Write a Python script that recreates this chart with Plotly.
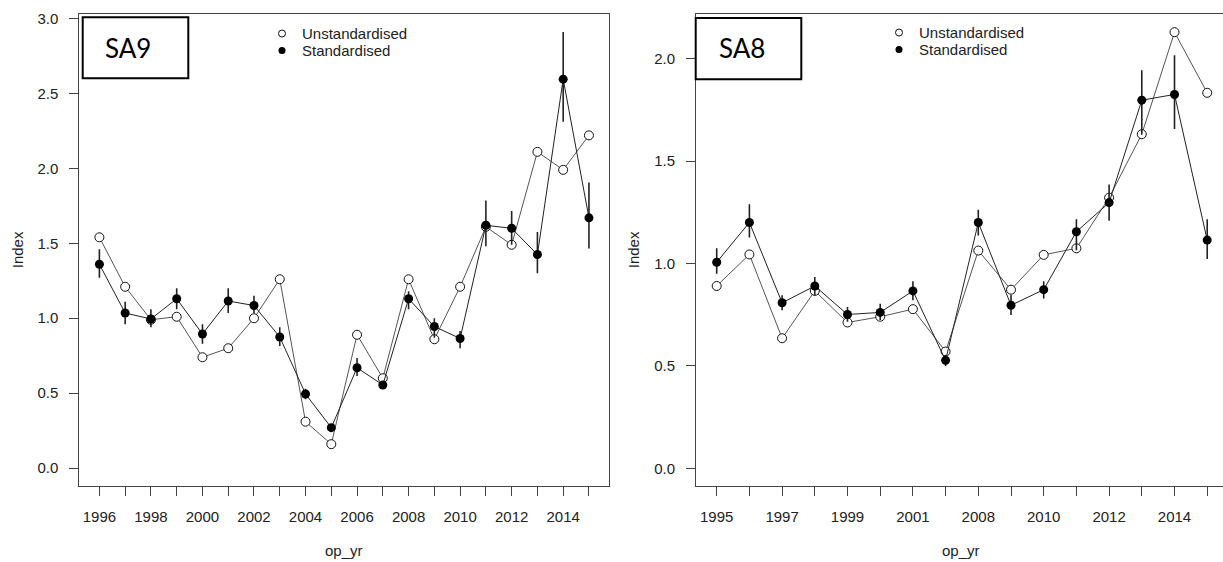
import plotly.graph_objects as go

# ---- SA9 ----
years_sa9 = list(range(1996, 2016))
unstd_sa9 = [1.54, 1.21, 0.99, 1.01, 0.74, 0.80, 1.00, 1.26, 0.31, 0.16,
             0.89, 0.60, 1.26, 0.86, 1.21, 1.61, 1.49, 2.11, 1.99, 2.22]
std_sa9 = [1.36, 1.035, 0.995, 1.13, 0.895, 1.115, 1.085, 0.875, 0.495, 0.27,
           0.67, 0.555, 1.13, 0.945, 0.865, 1.62, 1.60, 1.425, 2.595, 1.67]
lo_sa9 = [1.27, 0.96, 0.94, 1.06, 0.83, 1.035, 1.035, 0.815, 0.46, 0.25,
          0.615, 0.53, 1.06, 0.87, 0.80, 1.48, 1.49, 1.30, 2.31, 1.465]
hi_sa9 = [1.46, 1.11, 1.06, 1.20, 0.96, 1.20, 1.15, 0.94, 0.53, 0.29,
          0.735, 0.58, 1.18, 1.00, 0.915, 1.785, 1.715, 1.575, 2.91, 1.905]

# ---- SA8 ----
cats_sa8 = ["1995", "1996", "1997", "1998", "1999", "2000", "2001", "2002",
            "2008", "2009", "2010", "2011", "2012", "2013", "2014", "2015"]
unstd_sa8 = [0.89, 1.044, 0.635, 0.866, 0.712, 0.74, 0.777, 0.57,
             1.063, 0.872, 1.042, 1.074, 1.321, 1.631, 2.129, 1.833]
std_sa8 = [1.006, 1.20, 0.808, 0.89, 0.751, 0.761, 0.866, 0.527,
           1.20, 0.796, 0.872, 1.155, 1.297, 1.797, 1.825, 1.114]
lo_sa8 = [0.95, 1.127, 0.772, 0.845, 0.716, 0.724, 0.82, 0.50,
          1.136, 0.748, 0.829, 1.065, 1.208, 1.628, 1.656, 1.022]
hi_sa8 = [1.074, 1.289, 0.845, 0.934, 0.788, 0.803, 0.913, 0.555,
          1.262, 0.846, 0.913, 1.216, 1.386, 1.943, 2.016, 1.216]

W, H = 1223, 562
FONT = "Liberation Sans, Arial, sans-serif"
TXT = "#222222"
AX = "#444444"


def px(x):
    return x / W


def py(y):
    return 1 - y / H


def err(vals, lo, hi):
    plus = [h - v for v, h in zip(vals, hi)]
    minus = [v - l for v, l in zip(vals, lo)]
    return dict(type="data", array=plus, arrayminus=minus, symmetric=False,
                width=0, thickness=1.6, color="#222222")


fig = go.Figure()


def add_panel(x, unstd, std, lo, hi, xa, ya, leg_u, leg_s):
    fig.add_trace(go.Scatter(
        x=x, y=unstd, mode="lines+markers", xaxis=xa, yaxis=ya,
        line=dict(color="#555555", width=1),
        marker=dict(symbol="circle", size=9, color="white",
                    line=dict(color="#111111", width=1)),
        showlegend=False))
    fig.add_trace(go.Scatter(
        x=x, y=std, mode="lines+markers", xaxis=xa, yaxis=ya,
        line=dict(color="#222222", width=1),
        marker=dict(symbol="circle", size=9, color="black"),
        error_y=err(std, lo, hi),
        showlegend=False))
    # legend entries (marker only)
    fig.add_trace(go.Scatter(
        x=[None], y=[None], mode="markers", xaxis=xa, yaxis=ya,
        name="Unstandardised", legend=leg_u,
        marker=dict(symbol="circle", size=7, color="white",
                    line=dict(color="#111111", width=1))))
    fig.add_trace(go.Scatter(
        x=[None], y=[None], mode="markers", xaxis=xa, yaxis=ya,
        name="Standardised", legend=leg_s,
        marker=dict(symbol="circle", size=7, color="black")))


add_panel(years_sa9, unstd_sa9, std_sa9, lo_sa9, hi_sa9, "x", "y", "legend", "legend2")
add_panel(cats_sa8, unstd_sa8, std_sa8, lo_sa8, hi_sa8, "x2", "y2", "legend3", "legend4")

ydom = [py(485), py(10)]
tickfont = dict(family=FONT, size=15, color=TXT)

common_x = dict(showline=True, linecolor=AX, linewidth=1, mirror=True,
                ticks="outside", ticklen=9, tickwidth=1, tickcolor=AX,
                showgrid=False, zeroline=False, tickfont=tickfont,
                ticklabelstandoff=8)
common_y = dict(showline=True, linecolor=AX, linewidth=1,
                ticks="outside", ticklen=9, tickwidth=1, tickcolor=AX,
                showgrid=False, zeroline=False, tickfont=tickfont,
                tickformat=".1f", ticklabelstandoff=8)

fig.update_layout(
    width=W, height=H,
    margin=dict(l=0, r=0, t=0, b=0),
    paper_bgcolor="white", plot_bgcolor="white",
    font=dict(family=FONT, size=15, color=TXT),
    xaxis=dict(domain=[px(79.3), px(609.3)], range=[1995.22, 2015.79],
               tickvals=years_sa9,
               ticktext=[str(y) if (y - 1996) % 2 == 0 else "" for y in years_sa9],
               anchor="y", **common_x),
    yaxis=dict(domain=ydom, range=[-0.116, 3.030], tickvals=[0, 0.5, 1, 1.5, 2, 2.5, 3],
               anchor="x", mirror=True, **common_y),
    xaxis2=dict(domain=[px(696), 1.0], range=[-0.633, 15.483], type="category",
                categoryorder="array", categoryarray=cats_sa8,
                tickvals=cats_sa8,
                ticktext=[c if i % 2 == 0 else "" for i, c in enumerate(cats_sa8)],
                anchor="y2", **common_x),
    yaxis2=dict(domain=ydom, range=[-0.084, 2.218], tickvals=[0, 0.5, 1, 1.5, 2],
                anchor="x2", mirror=False, **common_y),
)

leg_common = dict(font=dict(family=FONT, size=15, color=TXT), bgcolor="rgba(0,0,0,0)",
                  borderwidth=0, xanchor="left", yanchor="middle", itemwidth=30)
fig.update_layout(
    legend=dict(x=px(262), y=py(30), **leg_common),
    legend2=dict(x=px(262), y=py(47), **leg_common),
    legend3=dict(x=px(879), y=py(29), **leg_common),
    legend4=dict(x=px(879), y=py(46), **leg_common),
)

# panel labels in boxes
for x0, x1, y0, y1, label, tx in [(82.7, 188.3, 13.3, 74.7, "SA9", 103),
                                  (695.7, 801.3, 14, 75.7, "SA8", 716.7)]:
    fig.add_shape(type="rect", xref="paper", yref="paper",
                  x0=px(x0), x1=px(x1), y0=py(y1), y1=py(y0),
                  line=dict(color="black", width=2), fillcolor="white")
    fig.add_annotation(text=label, xref="paper", yref="paper",
                       x=px(tx), y=py(44), xanchor="left", yanchor="middle",
                       showarrow=False,
                       font=dict(family="Lato, Carlito, sans-serif", size=26, color="black"))

# axis titles
for x, y, text, angle in [(17, 248, "Index", -90), (633, 248, "Index", -90),
                          (344, 550, "op_yr", 0), (961, 550, "op_yr", 0)]:
    fig.add_annotation(text=text, xref="paper", yref="paper", x=px(x), y=py(y),
                       xanchor="center", yanchor="middle", showarrow=False,
                       textangle=angle, font=dict(family=FONT, size=15, color=TXT))

fig.write_html("out.html")
